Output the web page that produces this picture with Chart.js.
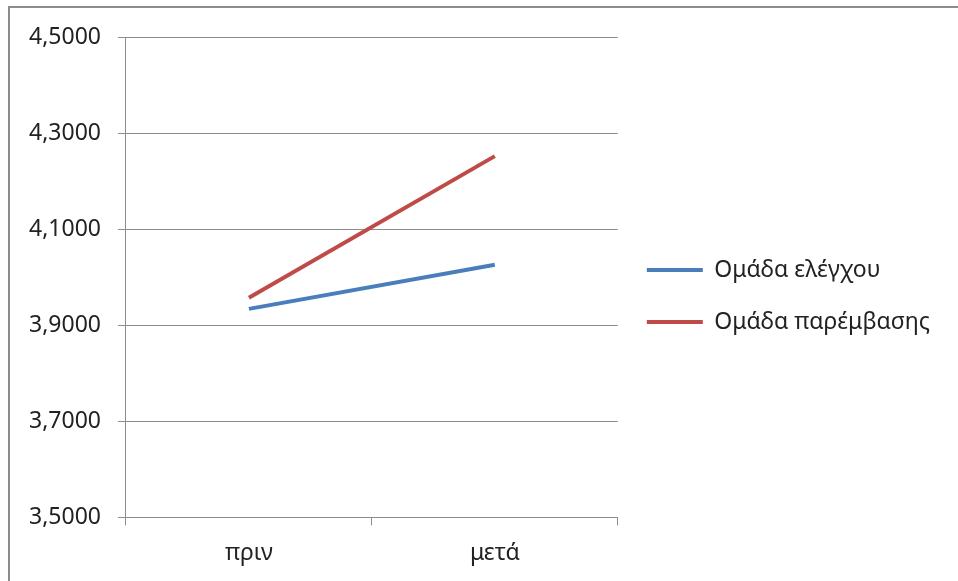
<!DOCTYPE html>
<html>
<head>
<meta charset="utf-8">
<script src="https://cdn.jsdelivr.net/npm/chart.js@4"></script>
<style>
    body { margin: 0; background: #fff; }
    #wrap { position: relative; width: 958px; height: 581px; }
    #frame {
        position: absolute; left: 8px; top: 6px; right: -10px; bottom: -10px;
        border: 2px solid #8c8c8c; pointer-events: none;
    }
</style>
</head>
<body>
<div id="wrap">
    <canvas id="chart" width="958" height="581"></canvas>
    <div id="frame"></div>
</div>
<script>
const categories = ['πριν', 'μετά'];
const controlGroup = [3.934, 4.026];
const interventionGroup = [3.957, 4.252];
const seriesNames = ['Ομάδα ελέγχου', 'Ομάδα παρέμβασης'];
const yTicks = [3.5, 3.7, 3.9, 4.1, 4.3, 4.5];

const fontFamily = '"Noto Sans", sans-serif';
const gridColor = '#8c8c8c';

document.addEventListener('DOMContentLoaded', () => {
    const ctx = document.getElementById('chart').getContext('2d');

    new Chart(ctx, {
        type: 'line',
        data: {
            labels: categories,
            datasets: [
                {
                    label: seriesNames[0],
                    data: controlGroup,
                    borderColor: '#4a7ebb',
                    backgroundColor: '#4a7ebb',
                    borderWidth: 4,
                    pointRadius: 0,
                    tension: 0
                },
                {
                    label: seriesNames[1],
                    data: interventionGroup,
                    borderColor: '#be4b48',
                    backgroundColor: '#be4b48',
                    borderWidth: 4,
                    pointRadius: 0,
                    tension: 0
                }
            ]
        },
        options: {
            responsive: false,
            animation: false,
            layout: {
                padding: { left: 12, top: 37, right: 18, bottom: 0 }
            },
            plugins: {
                tooltip: { enabled: false },
                legend: {
                    position: 'right',
                    maxWidth: 420,
                    // negative-height title nudges the centred items up a bit
                    title: {
                        display: true,
                        text: '',
                        font: { size: 10 },
                        padding: { top: 0, bottom: -38 }
                    },
                    labels: {
                        usePointStyle: true,
                        pointStyle: 'line',
                        pointStyleWidth: 56,
                        boxWidth: 56,
                        boxHeight: 4,
                        padding: 29,
                        color: '#222',
                        font: { family: fontFamily, size: 23 }
                    }
                }
            },
            scales: {
                x: {
                    offset: true,
                    grid: {
                        offset: true,
                        drawOnChartArea: false,
                        tickLength: 8,
                        color: gridColor
                    },
                    border: { color: gridColor, width: 1 },
                    ticks: {
                        padding: 14,
                        color: '#222',
                        font: { family: fontFamily, size: 23 }
                    }
                },
                y: {
                    min: 3.5,
                    max: 4.5,
                    afterBuildTicks: axis => {
                        axis.ticks = yTicks.map(v => ({ value: v }));
                    },
                    grid: {
                        tickLength: 8,
                        color: gridColor
                    },
                    border: { color: gridColor, width: 1 },
                    ticks: {
                        padding: 17,
                        color: '#222',
                        font: { family: fontFamily, size: 23 },
                        callback: value => value.toFixed(4).replace('.', ',')
                    }
                }
            }
        }
    });
});
</script>
</body>
</html>
